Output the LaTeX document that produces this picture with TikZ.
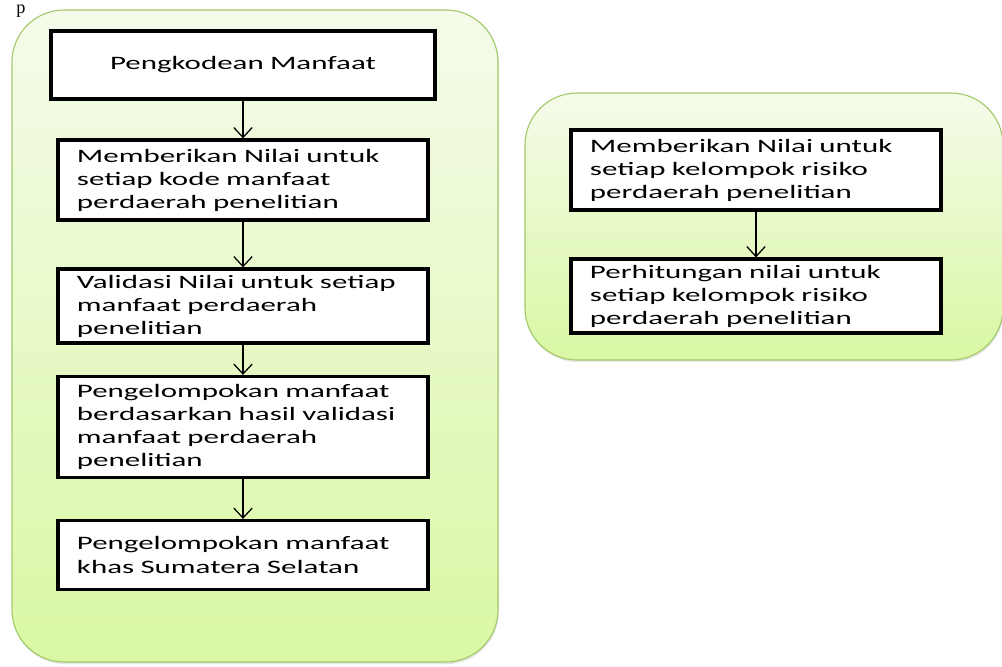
\documentclass[tikz,border=0pt]{standalone}
\usepackage{fontspec}
\setmainfont{Carlito}[FakeStretch = 1.63]
\newfontfamily\serifp{Liberation Serif}
\usetikzlibrary{
    arrows.meta,
    shadows,
    calc
}
\definecolor{panetop}{HTML}{F4FBEA}
\definecolor{panebot}{HTML}{DAF8A4}
\definecolor{paneline}{HTML}{A2C96A}
\tikzset {
    pane/.style = {
        draw = paneline,
        line width = 0.8pt,
        rounded corners = 1.3cm,
        top color = panetop,
        bottom color = panebot,
        drop shadow = {opacity = 0.2, shadow xshift = 0.6pt, shadow yshift = -1.5pt}
    },
    stepbox/.style = {
        draw,
        line width = 2.3pt,
        fill = white,
        text width = 8.3cm,
        inner xsep = 0.475cm,
        align = left,
        font = \fontsize{13.5}{16.4}\selectfont
    },
    topbox/.style = {stepbox, text width = 8.5cm, inner xsep = 0.55cm, align = center},
    flow/.style = {line width = 0.9pt, arrows = {-Straight Barb[length = 7pt, width = 13pt]}}
}

\begin{document}
\begin{tikzpicture}[x = 0.025cm, y = -0.025cm]
    \useasboundingbox (0, 0) rectangle (1002, 666);
    \clip (0, 0) rectangle (1002, 666);
    \node (p) [font = \serifp\fontsize{13}{13}\selectfont, anchor = base, inner sep = 0pt] at (21, 13) {p};
    % panels
    \draw [pane] (12, 10) rectangle (498, 662);
    \draw [pane] (525, 93) rectangle (1003, 360);
    % left column
    \node (kode) [topbox, minimum height = 1.7cm] at (243, 65) {Pengkodean Manfaat};
    \node (nilai) [stepbox, minimum height = 2cm] at (243, 180)
        {Memberikan Nilai untuk\\setiap kode manfaat\\perdaerah penelitian};
    \node (valid) [stepbox, minimum height = 1.85cm] at (243, 306)
        {Validasi Nilai untuk setiap\\manfaat perdaerah\\penelitian};
    \node (kelompok) [stepbox, minimum height = 2.525cm] at (243, 427)
        {Pengelompokan manfaat\\berdasarkan hasil validasi\\manfaat perdaerah\\penelitian};
    \node (khas) [stepbox, minimum height = 1.725cm] at (243, 555)
        {Pengelompokan manfaat\\khas Sumatera Selatan};
    \draw [flow] (kode) -- (nilai);
    \draw [flow] (nilai) -- (valid);
    \draw [flow] (valid) -- (kelompok);
    \draw [flow] (kelompok) -- (khas);
    % right column
    \node (risiko) [stepbox, minimum height = 2cm] at (756, 170)
        {Memberikan Nilai untuk\\setiap kelompok risiko\\perdaerah penelitian};
    \node (hitung) [stepbox, minimum height = 1.85cm] at (756, 296)
        {Perhitungan nilai untuk\\setiap kelompok risiko\\perdaerah penelitian};
    \draw [flow] (risiko) -- (hitung);
\end{tikzpicture}
\end{document}
